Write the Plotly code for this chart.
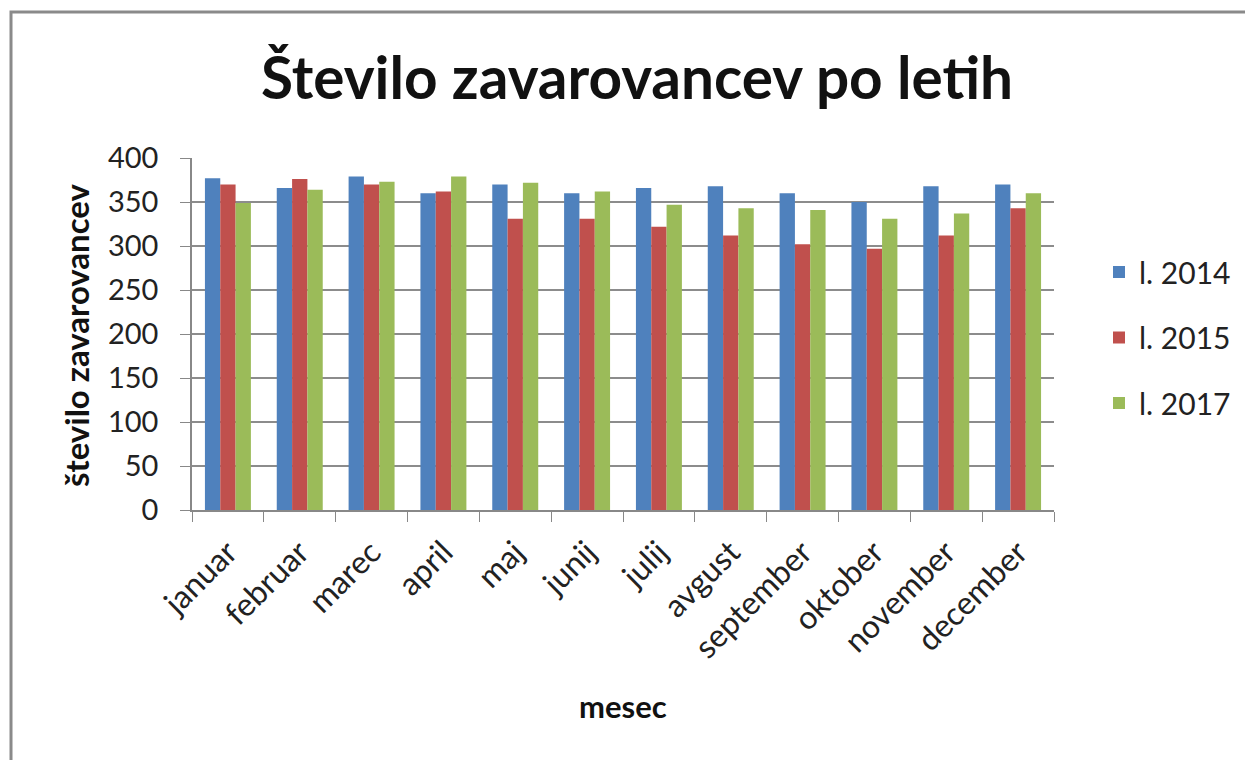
import plotly.graph_objects as go

months = ["januar", "februar", "marec", "april", "maj", "junij", "julij",
          "avgust", "september", "oktober", "november", "december"]
y2014 = [377, 366, 379, 360, 370, 360, 366, 368, 360, 350, 368, 370]
y2015 = [370, 376, 370, 362, 331, 331, 322, 312, 302, 297, 312, 343]
y2017 = [349, 364, 373, 379, 372, 362, 347, 343, 341, 331, 337, 360]
series_names = ["l. 2014", "l. 2015", "l. 2017"]
colors = ["#4F81BD", "#C0504D", "#9BBB59"]

FONT = "Lato, Open Sans, sans-serif"

fig = go.Figure()
for name, vals, col in zip(series_names, [y2014, y2015, y2017], colors):
    fig.add_trace(go.Bar(x=months, y=vals, name=name, legendgroup=name,
                         marker=dict(color=col, line=dict(width=0))))

OFF = 8  # page body margin
W, H = 1253 - OFF, 760 - OFF
L, R, T, B = 192 - OFF, 1054 - OFF, 158 - OFF, 510 - OFF
pw, ph = R - L, B - T

def px(x):
    return (x - OFF - L) / pw

def py(y):
    return (B - (y - OFF)) / ph

fig.update_layout(
    width=W, height=H,
    margin=dict(l=L, r=W - R, t=T, b=H - B, autoexpand=False),
    paper_bgcolor="white", plot_bgcolor="white",
    barmode="group", bargap=0.36, bargroupgap=0,
    font=dict(family=FONT, color="#222222"),
    title=dict(text="<b>Število zavarovancev po letih</b>", x=(637 - OFF) / W, xanchor="center",
               y=1 - (79 - OFF) / H, yanchor="middle", yref="container",
               font=dict(size=58.5, family=FONT, color="#111111")),
    legend=dict(x=px(1099), y=py(246), xanchor="left", yanchor="top",
                font=dict(size=30, family=FONT, color="#222222"),
                tracegroupgap=23.5, bgcolor="rgba(0,0,0,0)"),
    showlegend=True,
)
fig.update_xaxes(
    type="category", tickson="boundaries", ticks="outside", ticklen=10,
    tickcolor="#888888", showline=True, linecolor="#888888", linewidth=1.5,
    tickangle=-45, tickfont=dict(size=32, family=FONT, color="#222222"),
    ticklabelstandoff=9, showgrid=False,
)
fig.update_yaxes(
    range=[0, 400], dtick=50, ticks="outside", ticklen=10, tickcolor="#888888",
    showline=True, linecolor="#888888", linewidth=1.5,
    showgrid=True, gridcolor="#8C8C8C", gridwidth=1.5,
    tickfont=dict(size=29, family=FONT, color="#222222"), ticklabelstandoff=16,
    zeroline=False,
)
fig.add_annotation(text="<b>mesec</b>", x=px(623), y=py(706), xref="paper", yref="paper",
                   xanchor="center", yanchor="middle",
                   showarrow=False, font=dict(size=31, family=FONT, color="#111111"))
fig.add_annotation(text="<b>število zavarovancev</b>", x=px(76), y=py(335), xref="paper",
                   yref="paper", xanchor="center", yanchor="middle",
                   showarrow=False, textangle=-90,
                   font=dict(size=33, family=FONT, color="#111111"))
fig.add_shape(type="rect", xref="paper", yref="paper",
              x0=px(11), x1=px(1300), y0=py(900), y1=py(12),
              line=dict(color="#8A8A8A", width=3), fillcolor="rgba(0,0,0,0)", layer="below")

fig.write_html("out.html")
